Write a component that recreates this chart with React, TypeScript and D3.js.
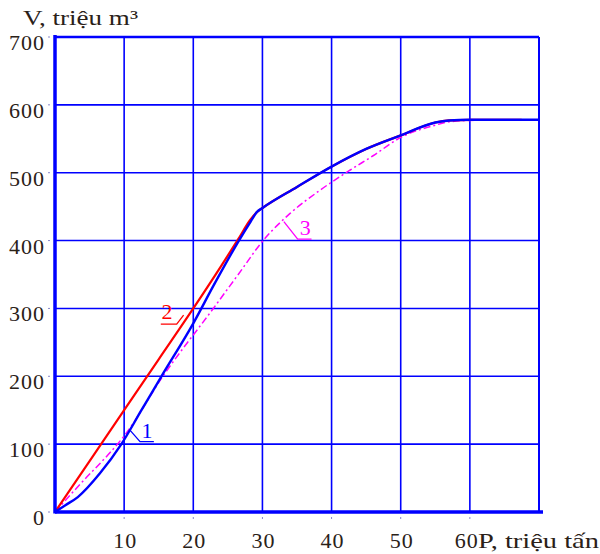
import React from 'react';
import * as d3 from 'd3';

// curve 1 (blue, solid)
const p1 = [0, 1.5, 3.3, 6.5, 9.6, 12.5, 15.4, 20, 23, 26.6, 28.3, 29.2, 30, 35, 40, 45, 50, 55, 57, 60, 65, 70];
const v1 = [0, 10, 22, 57, 100, 150, 200, 278, 335, 400, 428, 442, 448, 479, 509, 535, 555, 574, 577, 578, 578, 578];

// curve 2 (red)
const p2 = [0, 5, 10, 15, 20, 24, 26.5, 28.2, 29.2, 30, 35, 40, 45, 50, 55, 57, 60, 67.5];
const v2 = [0, 75, 150, 225, 300, 362, 402, 430, 442, 448, 479, 509, 535, 555, 574, 577, 578, 578];

// curve 3 (magenta, dash-dot)
const p3 = [0, 4, 8, 10, 15.6, 22.9, 26.5, 30.1, 34, 38.3, 42.7, 46, 50, 55, 57, 60, 67.5];
const v3 = [0, 45, 88, 112, 200, 300, 350, 400, 440, 474, 504, 525, 552, 570, 575, 577, 578];

const xTicks = [10, 20, 30, 40, 50, 60];
const yTicks = [0, 100, 200, 300, 400, 500, 600, 700];
const xTitle = 'P, triệu tấn';
const yTitle = 'V, triệu m³';

const W = 600;
const H = 554;
const left = 55;
const right = 539;
const top = 37;
const bottom = 512;

const BLUE = '#0000ff';
const RED = '#ff0000';
const MAG = '#ff00ff';
const INK = '#2a2118';
const FONT = '"Liberation Serif", "DejaVu Serif", serif';

function App() {
  const x = d3.scaleLinear().domain([0, 70]).range([left, right]);
  const y = d3.scaleLinear().domain([0, 700]).range([bottom, top]);

  const line = d3
    .line<[number, number]>()
    .x(d => x(d[0]))
    .y(d => y(d[1]))
    .curve(d3.curveMonotoneX);

  const s1 = p1.map((p, i) => [p, v1[i]] as [number, number]);
  const s2 = p2.map((p, i) => [p, v2[i]] as [number, number]);
  const s3 = p3.map((p, i) => [p, v3[i]] as [number, number]);

  return (
    <svg width={W} height={H} style={{ position: 'absolute', left: 0, top: 0, background: '#fff' }}>
      {/* grid */}
      {xTicks.map(t => (
        <line key={'gx' + t} x1={x(t)} x2={x(t)} y1={top} y2={bottom} stroke={BLUE} strokeWidth={1.6} />
      ))}
      {yTicks.filter(t => t > 0).map(t => (
        <line key={'gy' + t} x1={left} x2={right} y1={y(t)} y2={y(t)} stroke={BLUE} strokeWidth={t === 700 ? 2.4 : 1.6} />
      ))}
      <line x1={right} x2={right} y1={top} y2={bottom} stroke={BLUE} strokeWidth={2} />
      {/* tiny tick dots */}
      {xTicks.map(t => (
        <line key={'tx' + t} x1={x(t)} x2={x(t)} y1={bottom + 5} y2={bottom + 7} stroke="#8888cc" strokeWidth={1} />
      ))}
      {yTicks.map(t => (
        <line key={'ty' + t} x1={left - 7} x2={left - 5} y1={y(t)} y2={y(t)} stroke="#8888cc" strokeWidth={1} />
      ))}

      {/* curves */}
      <path d={line(s3) || ''} fill="none" stroke={MAG} strokeWidth={1.5} strokeDasharray="7,3,2,3" />
      <path d={line(s2) || ''} fill="none" stroke={RED} strokeWidth={2.2} />
      <path d={line(s1) || ''} fill="none" stroke={BLUE} strokeWidth={2.4} />

      {/* axes */}
      <line x1={left} x2={left} y1={top - 2} y2={bottom + 1.5} stroke={BLUE} strokeWidth={3.5} />
      <line x1={left} x2={right + 4} y1={bottom} y2={bottom} stroke={BLUE} strokeWidth={3.5} />

      {/* tick labels */}
      {yTicks.map(t => (
        <text key={'ly' + t} x={45} y={y(t) + 13} textAnchor="end" fontFamily={FONT} fontSize={22} fill={INK} letterSpacing={1}>
          {t}
        </text>
      ))}
      {xTicks.map(t => (
        <text key={'lx' + t} x={x(t) + (t === 60 ? -3 : 1)} y={548} textAnchor="middle" fontFamily={FONT} fontSize={22} fill={INK} letterSpacing={1}>
          {t}
        </text>
      ))}
      <text x={478} y={548} fontFamily={FONT} fontSize={22} fill={INK} textLength={121} lengthAdjust="spacingAndGlyphs">
        {xTitle}
      </text>
      <text x={23} y={25} fontFamily={FONT} fontSize={22} fill={INK} textLength={115} lengthAdjust="spacingAndGlyphs">
        {yTitle}
      </text>

      {/* curve labels */}
      <g fontFamily={FONT} fontSize={22}>
        <polyline points={`${x(10.9)},${y(120)} ${x(12.3)},${y(103.6)} ${x(14.3)},${y(103.6)}`} fill="none" stroke={BLUE} strokeWidth={1.3} />
        <text x={x(13.3)} y={y(109)} textAnchor="middle" fill={BLUE}>1</text>
        <polyline points={`${x(15.3)},${y(277)} ${x(17.6)},${y(277)} ${x(18.6)},${y(290)}`} fill="none" stroke={RED} strokeWidth={1.3} />
        <text x={x(16.2)} y={y(285)} textAnchor="middle" fill={RED}>2</text>
        <polyline points={`${x(33.1)},${y(428)} ${x(35.1)},${y(402)} ${x(37.1)},${y(402)}`} fill="none" stroke={MAG} strokeWidth={1.3} />
        <text x={x(36.2)} y={y(408)} textAnchor="middle" fill={MAG}>3</text>
      </g>
    </svg>
  );
}

export default App;
